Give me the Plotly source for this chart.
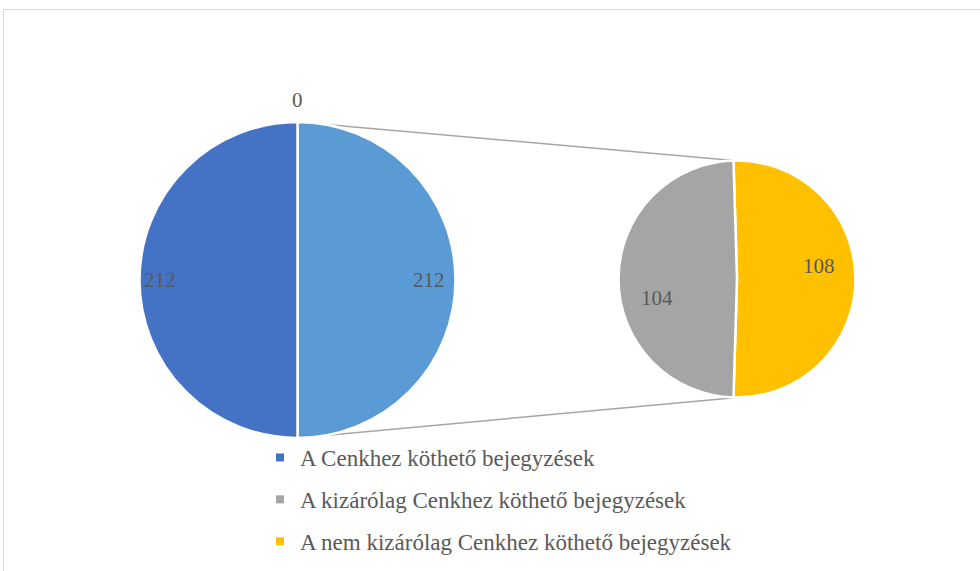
import math
import plotly.graph_objects as go

# ---- data ----
primary_labels = ["A Cenkhez köthető bejegyzések", "Egyéb"]
primary_values = [212, 212]
other_value = [0]
secondary_labels = ["A nem kizárólag Cenkhez köthető bejegyzések", "A kizárólag Cenkhez köthető bejegyzések"]
secondary_values = [108, 104]
legend_labels = ["A Cenkhez köthető bejegyzések",
                 "A kizárólag Cenkhez köthető bejegyzések",
                 "A nem kizárólag Cenkhez köthető bejegyzések"]

# ---- style ----
W, H = 980, 571
C_DARK, C_LIGHT, C_GRAY, C_GOLD = "#4472C4", "#5B9BD5", "#A5A5A5", "#FFC000"
TXT = "#595959"
FONT = "Liberation Serif"
P1 = dict(cx=297.5, cy=280, r=158)
P2 = dict(cx=737, cy=279, r=118.5)
ROT2 = -1.7


def dom(p):
    return dict(x=[(p["cx"] - p["r"]) / W, (p["cx"] + p["r"]) / W],
                y=[1 - (p["cy"] + p["r"]) / H, 1 - (p["cy"] - p["r"]) / H])


def pt(p, ang, frac):
    a = math.radians(ang)
    x = p["cx"] + p["r"] * frac * math.sin(a)
    y = p["cy"] - p["r"] * frac * math.cos(a)
    return x / W, 1 - y / H


fig = go.Figure()
# primary pie: light blue ("other") first, clockwise from 12 o'clock -> right half
fig.add_trace(go.Pie(
    labels=[primary_labels[1], primary_labels[0]],
    values=[primary_values[1], primary_values[0]],
    marker=dict(colors=[C_LIGHT, C_DARK], line=dict(color="white", width=2.5)),
    sort=False, direction="clockwise", rotation=0, textinfo="none",
    hoverinfo="label+value", showlegend=False, domain=dom(P1)))
fig.add_trace(go.Pie(
    labels=secondary_labels, values=secondary_values,
    marker=dict(colors=[C_GOLD, C_GRAY], line=dict(color="white", width=2.5)),
    sort=False, direction="clockwise", rotation=ROT2, textinfo="none",
    hoverinfo="label+value", showlegend=False, domain=dom(P2)))

# legend entries
for lab, col in zip(legend_labels, [C_DARK, C_GRAY, C_GOLD]):
    fig.add_trace(go.Scatter(x=[None], y=[None], mode="markers", name=lab,
                             legendgroup=lab,
                             marker=dict(symbol="square", size=8, color=col)))

# data labels
ann = []
lab_pos = [(P1, 270, 0.87, primary_values[0]),
           (P1, 90, 0.83, primary_values[1]),
           (P1, 0, 1.14, other_value[0]),
           (P2, 81, 0.70, secondary_values[0]),
           (P2, 257, 0.695, secondary_values[1])]
for p, a, f, v in lab_pos:
    x, y = pt(p, a, f)
    ann.append(dict(x=x, y=y, xref="paper", yref="paper", text=str(v),
                    xanchor="center", yanchor="middle",
                    showarrow=False, font=dict(family=FONT, size=21, color=TXT)))

# connector lines (beneath pies)
shapes = []
for a1, a2 in [(0, ROT2), (180, 180)]:
    x0, y0 = pt(P1, a1, 1.0)
    x1, y1 = pt(P2, a2, 1.0)
    shapes.append(dict(type="line", xref="paper", yref="paper", x0=x0, y0=y0,
                       x1=x1, y1=y1, layer="below",
                       line=dict(color="#A5A5A5", width=1.5)))
# chart border
shapes.append(dict(type="rect", xref="paper", yref="paper", x0=3.5 / W, y0=-0.05,
                   x1=1.05, y1=1 - 9.5 / H, line=dict(color="#D9D9D9", width=1),
                   layer="below"))

fig.update_layout(
    width=W, height=H, margin=dict(l=0, r=0, t=0, b=0),
    paper_bgcolor="white", plot_bgcolor="white",
    xaxis=dict(visible=False), yaxis=dict(visible=False),
    annotations=ann, shapes=shapes,
    legend=dict(x=260 / W, y=1 - 436 / H, xanchor="left", yanchor="top",
                font=dict(family=FONT, size=23, color=TXT),
                tracegroupgap=9, bgcolor="rgba(0,0,0,0)"),
)
fig.write_html("out.html", config={"displayModeBar": False},
               post_script="document.body.style.margin='0';")
